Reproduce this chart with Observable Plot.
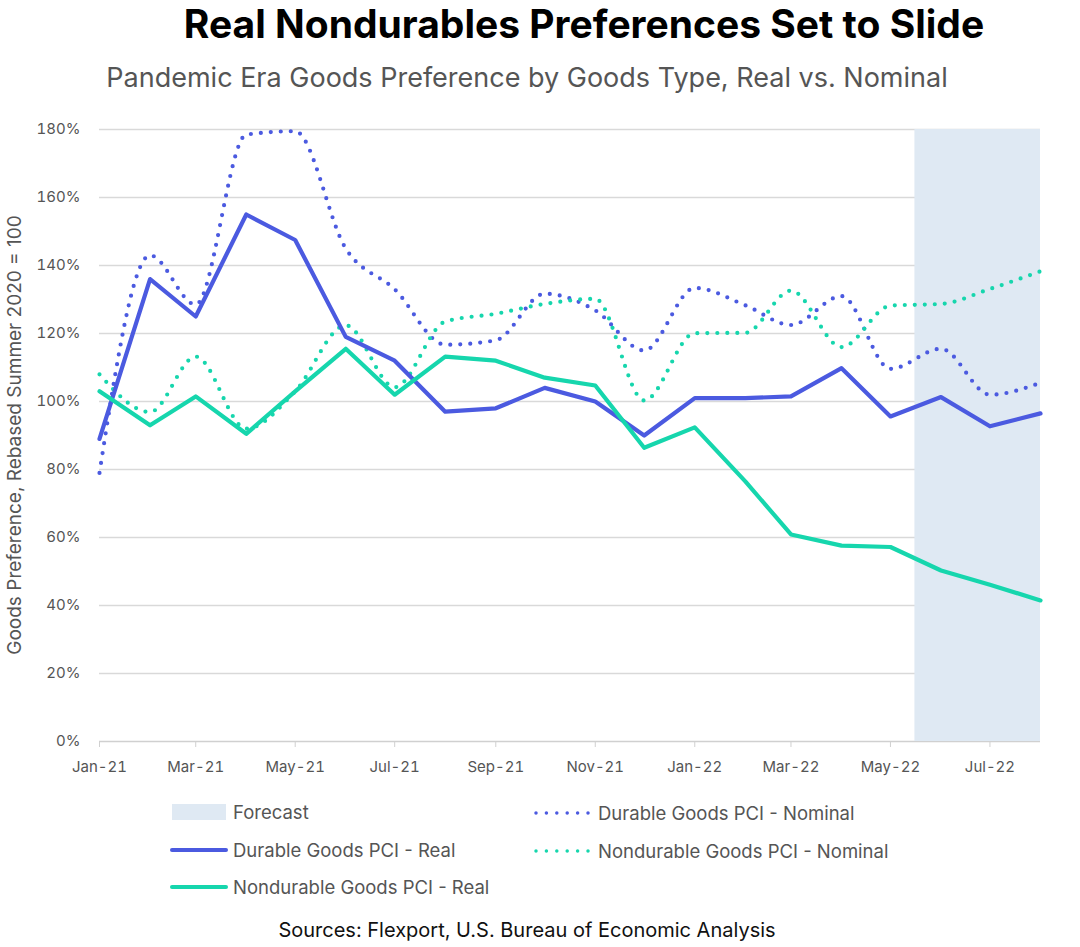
<!DOCTYPE html>
<html><head><meta charset="utf-8">
<script src="https://cdn.jsdelivr.net/npm/d3@7"></script>
<script src="https://cdn.jsdelivr.net/npm/@observablehq/plot@0.6"></script>
<style>
body{margin:0;background:#fff;font-family:Inter,"Noto Sans",sans-serif;}
#wrap{position:relative;width:1080px;height:947px;overflow:hidden;}
.t{position:absolute;white-space:nowrap;transform:translateX(-50%);line-height:1.21;}
#title{left:584px;top:0px;font-weight:700;font-size:39px;color:#000;}
#subtitle{left:527px;top:62px;font-size:27px;color:#555;}
#source{left:527px;top:918px;font-size:20px;color:#111;}
#ylabel{position:absolute;left:14px;top:435px;white-space:nowrap;font-size:19px;color:#555;transform:translate(-50%,-50%) rotate(-90deg);line-height:1;}
#chart{position:absolute;left:0;top:110px;}
.lg{position:absolute;display:flex;align-items:center;font-size:18.5px;color:#555;white-space:nowrap;}
.lg svg{margin-right:5px;}
</style></head>
<body><div id="wrap">
<div id="title" class="t">Real Nondurables Preferences Set to Slide</div>
<div id="subtitle" class="t">Pandemic Era Goods Preference by Goods Type, Real vs. Nominal</div>
<div id="chart"></div>
<div id="ylabel"></div>
<div id="legend"></div>
<div id="source" class="t">Sources: Flexport, U.S. Bureau of Economic Analysis</div>
</div>
<script>
const months = ["2021-01-01","2021-02-01","2021-03-01","2021-04-01","2021-05-01","2021-06-01","2021-07-01","2021-08-01","2021-09-01","2021-10-01","2021-11-01","2021-12-01","2022-01-01","2022-02-01","2022-03-01","2022-04-01","2022-05-01","2022-06-01","2022-07-01","2022-08-01"];
const durableReal     = [89, 136, 125, 155, 147.5, 119, 112, 97, 98, 104, 100, 90, 101, 101, 101.5, 109.8, 95.6, 101.3, 92.7, 96.5];
const durableNominal  = [79, 143, 128.5, 178.5, 179.5, 145, 133, 116.7, 118, 131.7, 126.8, 115, 133.4, 128.3, 122.5, 131, 109.6, 115.5, 102, 105.5];
const nondurableReal  = [103, 93, 101.5, 90.5, 103, 115.5, 102, 113.2, 112, 107, 104.7, 86.4, 92.4, 76.5, 60.9, 57.6, 57.2, 50.3, 46.1, 41.5];
const nondurableNominal = [108, 96.9, 113.2, 92, 103, 122.4, 104.2, 123.5, 125.8, 128.7, 130.2, 100.3, 120.1, 120.2, 132.6, 116, 128.2, 128.7, 133.1, 138.3];
const forecastWindow = [{start:"2022-05-16", end:"2022-08-01", label:"Forecast"}];
const yTicks = [0,20,40,60,80,100,120,140,160,180];
const xTickMonths = ["2021-01-01","2021-03-01","2021-05-01","2021-07-01","2021-09-01","2021-11-01","2022-01-01","2022-03-01","2022-05-01","2022-07-01"];
const yAxisTitle = "Goods Preference, Rebased Summer 2020 = 100";

const BLUE = "#4b5ae0", TEAL = "#16d6ad", SHADE = "#dfe9f3";
const seriesDefs = [
  {name:"Durable Goods PCI - Nominal", values:durableNominal, color:BLUE, dotted:true},
  {name:"Nondurable Goods PCI - Nominal", values:nondurableNominal, color:TEAL, dotted:true},
  {name:"Durable Goods PCI - Real", values:durableReal, color:BLUE, dotted:false},
  {name:"Nondurable Goods PCI - Real", values:nondurableReal, color:TEAL, dotted:false}
];
const toRows = s => months.map((m,i)=>({date:new Date(m), value:s.values[i], series:s.name}));
const fc = forecastWindow.map(d=>({start:new Date(d.start), end:new Date(d.end)}));

const lineMarks = seriesDefs.map(s => Plot.line(toRows(s), {
  x:"date", y:"value", stroke:s.color, strokeWidth:4.2,
  strokeDasharray: s.dotted ? "0 10" : null, strokeLinecap:"round", strokeLinejoin:"round",
  curve: s.dotted ? "monotone-x" : "linear"
}));

const chart = Plot.plot({
  width:1080, height:680, marginTop:19, marginBottom:49, marginLeft:99, marginRight:40,
  style:{fontFamily:"Inter, 'Noto Sans', sans-serif", fontSize:"15px", color:"#555", background:"transparent"},
  x:{type:"utc", domain:[new Date(months[0]), new Date(months[months.length-1])], label:null},
  y:{domain:[0,180], label:null},
  marks:[
    Plot.gridY(yTicks.filter(d=>d>0), {stroke:"#d9d9d9", strokeOpacity:1, strokeWidth:1.5}),
    Plot.ruleY([0], {stroke:"#d0d0d0", strokeWidth:1.5}),
    Plot.rect(fc, {x1:"start", x2:"end", y1:()=>0, y2:()=>180, fill:SHADE}),
    Plot.axisX(xTickMonths.map(d=>new Date(d)), {tickFormat:d3.utcFormat("%b-%y"), tickSize:6, tickPadding:14, stroke:"#d0d0d0", fill:"#555", fontSize:15}),
    Plot.axisY(yTicks, {tickFormat:d=>d+"%", tickSize:0, tickPadding:19, fontSize:15, fill:"#555", label:null}),
    ...lineMarks
  ]
});
document.getElementById("chart").appendChild(chart);
document.getElementById("ylabel").textContent = yAxisTitle;

// legend
const legendItems = [
  {label:forecastWindow[0].label, type:"rect", color:SHADE, x:170, y:812},
  {label:seriesDefs[2].name, type:"solid", color:BLUE, x:170, y:850},
  {label:seriesDefs[3].name, type:"solid", color:TEAL, x:170, y:887},
  {label:seriesDefs[0].name, type:"dot", color:BLUE, x:534, y:813},
  {label:seriesDefs[1].name, type:"dot", color:TEAL, x:534, y:851}
];
const lg = document.getElementById("legend");
legendItems.forEach(it=>{
  const d = document.createElement("div");
  d.className="lg";
  let sw, w;
  if(it.type==="rect"){ w=58; sw = `<svg width="58" height="16"><rect x="2" y="0" width="54" height="16" fill="${it.color}"/></svg>`; }
  else if(it.type==="solid"){ w=58; sw = `<svg width="58" height="10"><line x1="2" y1="5" x2="56" y2="5" stroke="${it.color}" stroke-width="4" stroke-linecap="round"/></svg>`; }
  else { w=59; sw = `<svg width="59" height="10"><line x1="2" y1="5" x2="56" y2="5" stroke="${it.color}" stroke-width="3.5" stroke-dasharray="0 10.4" stroke-linecap="round"/></svg>`; }
  d.style.left = it.x+"px"; d.style.top = (it.y-12)+"px"; d.style.height="24px";
  d.innerHTML = sw + `<span>${it.label}</span>`;
  lg.appendChild(d);
});
</script>
</body></html>
